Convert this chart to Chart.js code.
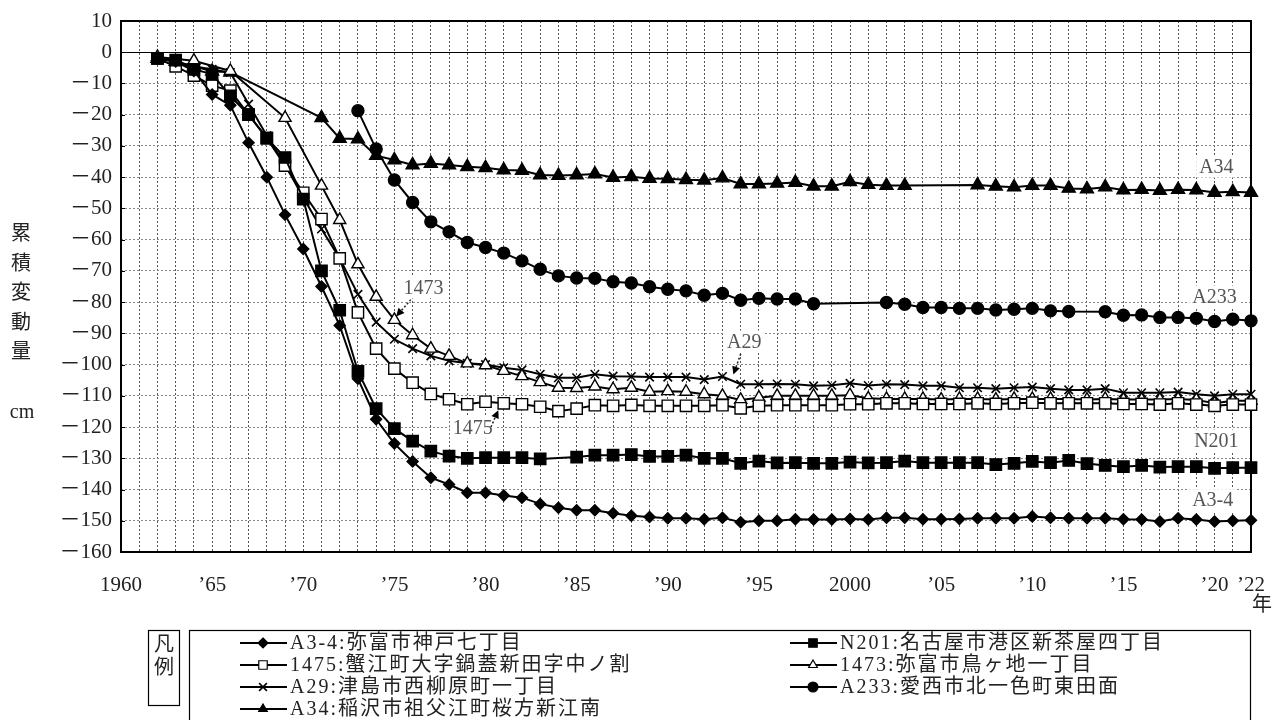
<!DOCTYPE html>
<html>
<head>
<meta charset="utf-8">
<script src="https://cdn.jsdelivr.net/npm/chart.js@4/dist/chart.umd.min.js"></script>
<style>
  html, body { margin: 0; padding: 0; background: #ffffff; }
  #wrap { width: 1272px; height: 720px; position: relative; }
</style>
</head>
<body>
<div id="wrap"><canvas id="c" width="1272" height="720"></canvas></div>
<script>
// Survey years (one entry per year, 1962–2022)
const years = [1962,1963,1964,1965,1966,1967,1968,1969,1970,1971,
               1972,1973,1974,1975,1976,1977,1978,1979,1980,1981,
               1982,1983,1984,1985,1986,1987,1988,1989,1990,1991,
               1992,1993,1994,1995,1996,1997,1998,1999,2000,2001,
               2002,2003,2004,2005,2006,2007,2008,2009,2010,2011,
               2012,2013,2014,2015,2016,2017,2018,2019,2020,2021,2022];

// Cumulative change (cm) per benchmark; null = not surveyed that year
const valA3_4 = [-2,-3,-6,-13.5,-17,-29,-40,-52,-63,-75,
                 -87.5,-104.5,-117.5,-125.3,-131,-136.2,-138.4,-141,-141,-141.9,
                 -142.6,-144.6,-145.8,-146.6,-146.6,-147.6,-148.4,-148.8,-149.2,-149.2,
                 -149.5,-149,-150.5,-150,-150,-149.5,-149.6,-149.6,-149.4,-149.6,
                 -149,-149,-149.5,-149.5,-149.4,-149.2,-149.2,-149.2,-148.6,-149,
                 -149.2,-149.2,-149.2,-149.5,-149.6,-150.2,-149.2,-149.6,-150.2,-150,-149.8];
const valN201 = [-2,-2.5,-5.5,-7,-14,-20,-27.5,-33.7,-47,-70,
                 -82.6,-102.2,-114.1,-120.5,-124.5,-127.7,-129.3,-130,-129.8,-129.8,
                 -129.8,-130.2,null,-129.6,-129,-129,-128.8,-129.4,-129.4,-129,
                 -130,-130,-131.6,-130.9,-131.5,-131.4,-131.6,-131.6,-131.2,-131.5,
                 -131.4,-130.9,-131.4,-131.4,-131.4,-131.4,-132,-131.6,-131,-131.4,
                 -130.7,-131.7,-132.3,-132.7,-132.3,-132.8,-132.7,-132.7,-133.2,-133,-133];
const val1475 = [-2,-4.5,-7.5,-10.7,-12.3,-20,-27.5,-36.3,-45,-53.4,
                 -66,-83.3,-94.9,-101.3,-105.8,-109.4,-111.1,-112.7,-111.9,-112.4,
                 -112.7,-113.5,-114.9,-114.1,-113,-113.2,-112.9,-113.2,-113.2,-113.2,
                 -113.2,-113,-114,-113.2,-113,-113,-113,-113,-112.7,-112.7,
                 -112.4,-112.4,-112.6,-112.6,-112.6,-112.4,-112.6,-112.4,-112.2,-112.4,
                 -112.4,-112.4,-112.4,-112.6,-112.6,-112.8,-112.4,-112.8,-113.2,-112.8,-112.8];
const val1473 = [-1.5,null,-2.7,null,-6,null,null,-21,null,-42.7,
                 -53.7,-67.9,-78.3,-85.7,-90.6,-94.9,-97.2,-99.6,-100.2,-102,
                 -103.7,-105.6,-107.4,-107.5,-107,-107.9,-107.4,-108.7,-108.5,-108.7,
                 -109.5,-110,-111.3,-110.6,-110,-110,-110,-110,-109.8,-110.8,
                 -111,-111,-111,-111.2,-111,-111,-111.2,-111,-111,-111,
                 -111,-111.2,-111,-111.2,-111.2,-111.2,-111,-111.3,-112.4,-111.6,-111.6];
const valA29  = [-2,-3,-4.5,-5.5,-6.5,-16.6,-26.7,-36,-46.5,-56.6,
                 -66,-77.5,-86.4,-91.9,-94.9,-97.2,-98.8,-99.6,-100,-101,
                 -101.7,-103.1,-104.2,-104.2,-103.1,-103.7,-103.8,-104,-104,-104,
                 -104.8,-103.8,-106.3,-106.3,-106.2,-106.3,-106.8,-106.6,-106,-106.7,
                 -106.3,-106.4,-106.8,-106.8,-107.4,-107.4,-107.7,-107.4,-107.2,-107.7,
                 -108.1,-108.1,-107.7,-109,-109,-109,-108.8,-109.5,-110,-109.5,-109.5];
const valA233 = [null,null,null,null,null,null,null,null,null,null,
                 null,-18.7,-31,-40.9,-48.1,-54.3,-57.5,-60.9,-62.5,-64.3,
                 -66.8,-69.5,-71.6,-72.3,-72.4,-73.5,-73.9,-75.1,-75.9,-76.4,
                 -77.8,-77.2,-79.4,-78.8,-79,-79,-80.5,null,null,null,
                 -80.1,-80.7,-81.7,-81.7,-82,-82,-82.5,-82.3,-82,-82.8,
                 -83,null,-83.1,-84.2,-84.1,-84.9,-84.9,-85.2,-86.2,-85.5,-86];
const valA34  = [-2,-3,-4.5,-6.1,-6.4,null,null,null,null,-21,
                 -27.6,-27.8,-33.1,-34.5,-36.1,-35.6,-36.1,-36.7,-37,-37.7,
                 -37.9,-39.3,-39.5,-39.3,-39,-40.1,-39.9,-40.4,-40.5,-40.8,
                 -41,-40.3,-42.2,-42.2,-42,-41.7,-42.9,-42.9,-41.5,-42.4,
                 -42.7,-42.7,null,null,null,-42.5,-42.9,-43.2,-42.7,-42.7,
                 -43.6,-43.8,-43.2,-44.1,-44,-44.3,-44,-44.1,-44.9,-44.7,-44.9];

// Axis tick labels
const xTickLabels = {1960:'1960',1965:'’65',1970:'’70',1975:'’75',1980:'’80',1985:'’85',
                     1990:'’90',1995:'’95',2000:'2000',2005:'’05',2010:'’10',2015:'’15',
                     2020:'’20',2022:'’22'};
const yTitleChars = ['累','積','変','動','量'];
const yUnit = 'cm';
const xUnit = '年';

// Legend entries (benchmark : location)
const legendNames = ['A3-4:弥富市神戸七丁目','N201:名古屋市港区新茶屋四丁目',
                     '1475:蟹江町大字鍋蓋新田字中ノ割','1473:弥富市鳥ヶ地一丁目',
                     'A29:津島市西柳原町一丁目','A233:愛西市北一色町東田面',
                     'A34:稲沢市祖父江町桜方新江南'];
const legendTitle = ['凡','例'];

// Marker looks per series
const seriesStyle = [
  {style:'rectRot',  fill:'#000', r:5.5},
  {style:'rect',     fill:'#000', r:8},
  {style:'rect',     fill:'#fff', r:8},
  {style:'triangle', fill:'#fff', r:7},
  {style:'crossRot', fill:'#000', r:6},
  {style:'circle',   fill:'#000', r:6},
  {style:'triangle', fill:'#000', r:7.5}
];
const seriesValues = [valA3_4, valN201, val1475, val1473, valA29, valA233, valA34];

// Text callouts placed in data units
const callouts = [
  {text:'A34',  x:2020.1, y:-36.6},
  {text:'A233', x:2020.0, y:-78.2},
  {text:'N201', x:2020.1, y:-124.3},
  {text:'A3-4', x:2019.9, y:-143.4},
  {text:'1473', x:1976.6, y:-75.3, arrow:{x0:1975.9, y0:-79.2, x1:1975.1, y1:-84.6}},
  {text:'A29',  x:1994.2, y:-92.6,  arrow:{x0:1994.0, y0:-96.6, x1:1993.6, y1:-103.2}},
  {text:'1475', x:1979.3, y:-120.2, arrow:{x0:1980.3, y0:-120.0, x1:1980.7, y1:-114.6}}
];

const SERIF = '"Liberation Serif","Noto Sans CJK JP",serif';

const datasets = seriesValues.map((vals, i) => {
  const st = seriesStyle[i];
  const pts = [];
  vals.forEach((v, k) => { if (v !== null) pts.push({x: years[k], y: v}); });
  return {
    label: legendNames[i],
    data: pts,
    borderColor: '#000',
    borderWidth: 2,
    pointStyle: st.style,
    pointRadius: st.r,
    pointBackgroundColor: st.fill,
    pointBorderColor: '#000',
    pointBorderWidth: st.style === 'crossRot' ? 1.6 : 1.4,
    tension: 0,
    spanGaps: true,
    clip: false
  };
});

function drawMarker(ctx, style, fill, x, y, r) {
  ctx.save();
  ctx.fillStyle = fill; ctx.strokeStyle = '#000'; ctx.lineWidth = 1.2;
  ctx.beginPath();
  if (style === 'rect') {
    const s = r * Math.SQRT1_2;
    ctx.rect(x - s, y - s, 2 * s, 2 * s);
    ctx.fill(); ctx.stroke();
  } else if (style === 'rectRot') {
    ctx.moveTo(x, y - r); ctx.lineTo(x + r, y); ctx.lineTo(x, y + r); ctx.lineTo(x - r, y); ctx.closePath();
    ctx.fill(); ctx.stroke();
  } else if (style === 'triangle') {
    for (let k = 0; k < 3; k++) {
      const a = -Math.PI / 2 + k * 2 * Math.PI / 3;
      const px = x + Math.cos(a) * r, py = y + Math.sin(a) * r;
      if (k === 0) ctx.moveTo(px, py); else ctx.lineTo(px, py);
    }
    ctx.closePath(); ctx.fill(); ctx.stroke();
  } else if (style === 'circle') {
    ctx.arc(x, y, r, 0, Math.PI * 2); ctx.fill(); ctx.stroke();
  } else if (style === 'crossRot') {
    const s = r * Math.SQRT1_2;
    ctx.moveTo(x - s, y - s); ctx.lineTo(x + s, y + s);
    ctx.moveTo(x + s, y - s); ctx.lineTo(x - s, y + s);
    ctx.lineWidth = 1.6; ctx.stroke();
  }
  ctx.restore();
}

const frameAndGuides = {
  id: 'frameAndGuides',
  beforeDatasetsDraw(chart) {
    const {ctx, chartArea: a, scales: {x, y}} = chart;
    ctx.save();
    // zero line
    const y0 = Math.round(y.getPixelForValue(0)) + 0.5;
    ctx.strokeStyle = '#000'; ctx.lineWidth = 1.2; ctx.setLineDash([]);
    ctx.beginPath(); ctx.moveTo(a.left, y0); ctx.lineTo(a.right, y0); ctx.stroke();
    // inward tick marks on the value axis
    ctx.lineWidth = 1;
    y.ticks.forEach(t => {
      const py = Math.round(y.getPixelForValue(t.value)) + 0.5;
      ctx.beginPath(); ctx.moveTo(a.left, py); ctx.lineTo(a.left + 4, py); ctx.stroke();
    });
    // plot frame
    ctx.lineWidth = 2;
    ctx.strokeRect(a.left, a.top, a.right - a.left, a.bottom - a.top);
    ctx.restore();
  },
  afterDraw(chart) {
    const {ctx, chartArea: a, scales: {x, y}} = chart;
    ctx.save();
    // value axis title, stacked vertically
    ctx.fillStyle = '#222';
    ctx.textAlign = 'center'; ctx.textBaseline = 'middle';
    ctx.font = '20px ' + SERIF;
    yTitleChars.forEach((ch, i) => ctx.fillText(ch, 21, 235 + i * 29.5));
    ctx.fillText(yUnit, 22, 413);
    // year unit
    ctx.fillText(xUnit, 1262, 606);

    // callouts
    ctx.font = '20px ' + SERIF;
    callouts.forEach(c => {
      const px = x.getPixelForValue(c.x), py = y.getPixelForValue(c.y);
      const w = ctx.measureText(c.text).width;
      ctx.fillStyle = '#fff';
      ctx.fillRect(px - w / 2 - 3, py - 11, w + 6, 22);
      ctx.fillStyle = '#555';
      ctx.fillText(c.text, px, py + 1);
      if (c.arrow) {
        const x0 = x.getPixelForValue(c.arrow.x0), y0 = y.getPixelForValue(c.arrow.y0);
        const x1 = x.getPixelForValue(c.arrow.x1), y1 = y.getPixelForValue(c.arrow.y1);
        const ang = Math.atan2(y1 - y0, x1 - x0);
        const hx = x1 - Math.cos(ang) * 8, hy = y1 - Math.sin(ang) * 8;
        ctx.strokeStyle = '#222'; ctx.lineWidth = 1.5; ctx.setLineDash([2, 2]);
        ctx.beginPath(); ctx.moveTo(x0, y0); ctx.lineTo(hx, hy); ctx.stroke();
        ctx.setLineDash([]);
        ctx.fillStyle = '#000';
        ctx.beginPath();
        ctx.moveTo(x1, y1);
        ctx.lineTo(hx + Math.cos(ang + Math.PI / 2) * 4, hy + Math.sin(ang + Math.PI / 2) * 4);
        ctx.lineTo(hx - Math.cos(ang + Math.PI / 2) * 4, hy - Math.sin(ang + Math.PI / 2) * 4);
        ctx.closePath(); ctx.fill();
      }
    });

    // legend
    ctx.strokeStyle = '#000'; ctx.lineWidth = 1.2; ctx.setLineDash([]);
    ctx.strokeRect(148.5, 630.5, 31, 75);
    ctx.strokeRect(189.5, 630.5, 1061, 100);
    ctx.fillStyle = '#222';
    ctx.font = '20px ' + SERIF;
    ctx.textAlign = 'center';
    ctx.fillText(legendTitle[0], 164, 646);
    ctx.fillText(legendTitle[1], 164, 669);
    ctx.textAlign = 'left';
    ctx.font = '20px ' + SERIF;
    ctx.letterSpacing = '2px';
    legendNames.forEach((name, i) => {
      const col = i % 2, row = Math.floor(i / 2);
      const lx = col === 0 ? 240 : 790;
      const ly = 643 + row * 22;
      ctx.strokeStyle = '#000'; ctx.lineWidth = 2;
      ctx.beginPath(); ctx.moveTo(lx, ly); ctx.lineTo(lx + 47, ly); ctx.stroke();
      const st = seriesStyle[i];
      drawMarker(ctx, st.style, st.fill, lx + 23, ly, st.style === 'rect' ? 6 : (st.style === 'crossRot' ? 5.5 : 5));
      ctx.fillStyle = '#222';
      ctx.fillText(name, lx + 50, ly + 1);
    });
    ctx.restore();
  }
};

new Chart(document.getElementById('c'), {
  type: 'line',
  data: { datasets },
  options: {
    responsive: false,
    animation: false,
    devicePixelRatio: 1,
    layout: { padding: { left: 0, right: 21, top: 21, bottom: 118 } },
    plugins: { legend: { display: false }, tooltip: { enabled: false } },
    scales: {
      x: {
        type: 'linear', min: 1960, max: 2022,
        afterFit: s => { s.height = 50; s.paddingLeft = 0; s.paddingRight = 0; },
        ticks: {
          stepSize: 1, autoSkip: false, maxRotation: 0, maxTicksLimit: 100,
          padding: 21, color: '#222',
          font: { family: SERIF, size: 21 },
          callback: v => xTickLabels[v] || ''
        },
        grid: { color: '#555', lineWidth: 1, drawTicks: false },
        border: { display: false, dash: [2, 2] }
      },
      y: {
        min: -160, max: 10,
        afterFit: s => { s.width = 121; s.paddingTop = 0; s.paddingBottom = 0; },
        ticks: {
          stepSize: 10, padding: 9, color: '#222',
          font: { family: SERIF, size: 21 },
          callback: v => (v < 0 ? '－' + Math.abs(v) : String(v))
        },
        grid: { color: '#888', lineWidth: 1, drawTicks: false },
        border: { display: false, dash: [2, 2] }
      }
    }
  },
  plugins: [frameAndGuides]
});
</script>
</body>
</html>
